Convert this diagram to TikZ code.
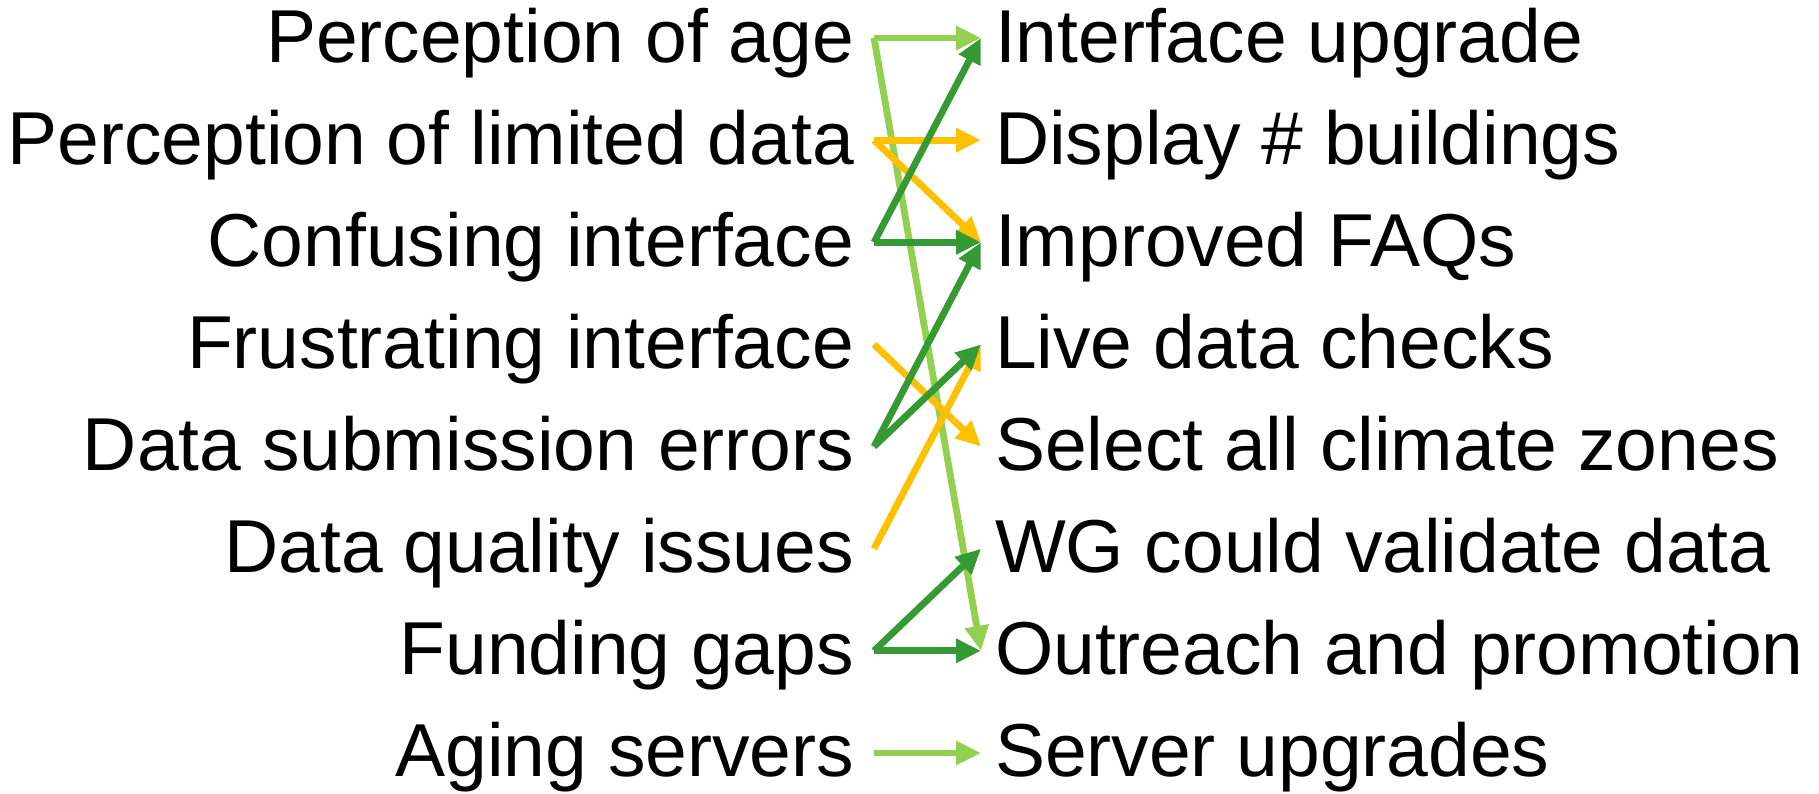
\documentclass[tikz,border=0pt]{standalone}
\usepackage{fontspec}
\setmainfont{Liberation Sans}
\usepackage{tikz}
\usetikzlibrary{arrows.meta}

\definecolor{lightgrn}{RGB}{146,208,80}
\definecolor{darkgrn}{RGB}{53,154,52}
\definecolor{gold}{RGB}{255,192,0}

\tikzset{
  problem/.style={anchor=east, inner sep=0pt, outer xsep=10pt,
    text height=24pt, text depth=0pt, font=\fontsize{37.5}{40}\selectfont},
  remedy/.style={anchor=west, inner sep=0pt, outer xsep=7pt,
    text height=24pt, text depth=0pt, font=\fontsize{37.5}{40}\selectfont},
  link/.style={line width=3.4pt, -{Triangle[length=12.5pt,width=11.5pt]}},
}

\begin{document}
\begin{tikzpicture}[x=0.5pt,y=-0.5pt]
    % fix the page size
    \useasboundingbox (0,0) rectangle (1819,793);

    % draw problems on the left
    \foreach \i/\txt in {1/Perception of age,2/Perception of limited data,
        3/Confusing interface,4/Frustrating interface,
        5/Data submission errors,6/Data quality issues,
        7/Funding gaps,8/Aging servers}
      \node[problem] (p\i) at (874,{38+102.14*(\i-1)}) {\txt};

    % draw remedies on the right
    \foreach \i/\txt in {1/Interface upgrade,2/Display \# buildings,
        3/Improved FAQs,4/Live data checks,
        5/Select all climate zones,6/WG could validate data,
        7/Outreach and promotion,8/Server upgrades}
      \node[remedy] (r\i) at (981,{38+102.14*(\i-1)}) {\txt};

    % draw light green links
    \draw[link, lightgrn] (p1.east) -- (r1.west);
    \draw[link, lightgrn] (p1.east) -- (r7.west);
    \draw[link, lightgrn] (p8.east) -- (r8.west);

    % draw gold links
    \draw[link, gold] (p2.east) -- (r2.west);
    \draw[link, gold] (p2.east) -- (r3.west);
    \draw[link, gold] (p4.east) -- (r5.west);
    \draw[link, gold] (p6.east) -- (r4.west);

    % draw dark green links
    \draw[link, darkgrn] (p3.east) -- (r1.west);
    \draw[link, darkgrn] (p3.east) -- (r3.west);
    \draw[link, darkgrn] (p5.east) -- (r3.west);
    \draw[link, darkgrn] (p5.east) -- (r4.west);
    \draw[link, darkgrn] (p7.east) -- (r6.west);
    \draw[link, darkgrn] (p7.east) -- (r7.west);

\end{tikzpicture}
\end{document}
